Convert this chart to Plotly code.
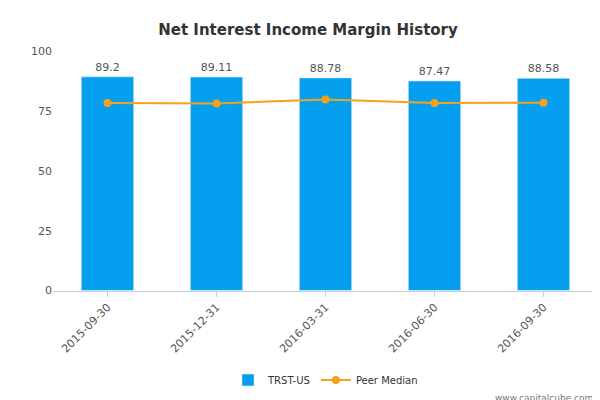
import plotly.graph_objects as go

dates = ["2015-09-30", "2015-12-31", "2016-03-31", "2016-06-30", "2016-09-30"]
trst = [89.2, 89.11, 88.78, 87.47, 88.58]
peer = [78.3, 78.1, 79.8, 78.3, 78.4]
labels = ["89.2", "89.11", "88.78", "87.47", "88.58"]

fig = go.Figure()
fig.add_trace(go.Bar(x=dates, y=trst, name="TRST-US", marker_color="#069ff0",
                     text=labels, textposition="outside", width=0.48,
                     textfont=dict(size=11, color="#555"), cliponaxis=False))
fig.add_trace(go.Scatter(x=dates, y=peer, name="Peer Median", mode="lines+markers",
                         line=dict(color="#f5a11c", width=2),
                         marker=dict(size=8, color="#f5a11c")))
fig.update_layout(
    width=600, height=400, plot_bgcolor="white", paper_bgcolor="white",
    font=dict(family="DejaVu Sans", color="#555", size=11),
    title=dict(text="<b>Net Interest Income Margin History</b>", x=0.5, y=0.96,
               font=dict(size=15, color="#333")),
    margin=dict(l=45, r=10, t=43, b=113),
    showlegend=True,
    legend=dict(orientation="h", x=0.5, xanchor="center", yref="container", y=0.07,
                yanchor="middle", font=dict(size=10, color="#333")),
    bargap=0.5,
)
fig.update_xaxes(type="category", tickangle=-45, showline=True, linecolor="#c0d0e0",
                 ticks="outside", tickcolor="#c0d0e0", showgrid=False,
                 tickfont=dict(size=11, color="#555"))
fig.update_yaxes(range=[0, 100], tickvals=[0, 25, 50, 75, 100], showgrid=False,
                 zeroline=False, tickfont=dict(size=11, color="#555"))
fig.add_annotation(text="www.capitalcube.com", xref="paper", yref="paper", x=0.995, y=-0.42,
                   xanchor="right", yanchor="top", showarrow=False,
                   font=dict(size=9, color="#777"))
fig.write_html("out.html")
